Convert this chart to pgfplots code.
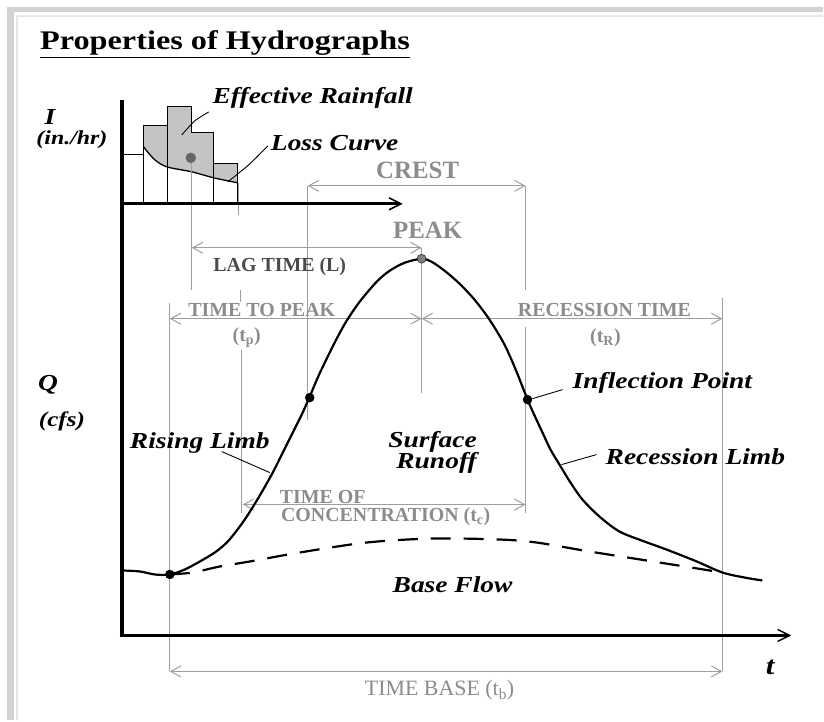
\documentclass[border=0pt]{standalone}
\usepackage{fontspec}
\setmainfont{Liberation Serif}
\newfontfamily\wide[FakeStretch=1.2]{Liberation Serif}
\usepackage{pgfplots}
\pgfplotsset{compat=1.18}
\usetikzlibrary{arrows.meta}

\definecolor{lg}{HTML}{9E9E9E}
\definecolor{tg}{HTML}{8C8C8C}
\definecolor{dk}{HTML}{4A4A4A}
\definecolor{frame}{HTML}{D2D2D2}
\definecolor{rain}{HTML}{C4C4C4}

\tikzset{
  barb/.tip={Straight Barb[length=10bp,width=11bp,line width=1bp]},
  dim/.style={lg, line width=1.2bp, barb-barb},
  guide/.style={lg, line width=1.2bp},
  lead/.style={black, line width=0.9bp},
  it/.style={font=\wide\bfseries\itshape\fontsize{23}{26}\selectfont, inner sep=0pt},
  gl/.style={text=tg, font=\bfseries\fontsize{20}{22}\selectfont, inner sep=0pt},
}

\begin{document}
\begin{tikzpicture}
\begin{axis}[
  width=824bp, height=721bp, scale only axis,
  xmin=0, xmax=824, ymin=0, ymax=721,
  y dir=reverse,
  hide axis, clip=false,
]
% page and grey frame
\path[fill=white] (axis cs:0,0) rectangle (axis cs:824,721);
\path[fill=frame] (axis cs:7,7) rectangle (axis cs:14,721);
\path[fill=frame] (axis cs:7,7) rectangle (axis cs:824,12);
\addplot[gray!20, line width=1.5bp] coordinates {(17,721) (17,16) (824,16)};

% effective rainfall (shaded part above the loss curve)
\addplot[fill=rain, draw=none] coordinates {
  (144,147) (144,126) (168,126) (168,107) (192,107) (192,133)
  (214,133) (214,164) (238,164) (238,183)
  (214,178) (192,172) (167,167) (155,160) (146,150) (144,147)};
% rainfall bars
\addplot[black, line width=1bp] coordinates {(124,204) (124,155) (144,155) (144,204)};
\addplot[black, line width=1bp] coordinates {(144,155) (144,126) (168,126) (168,204)};
\addplot[black, line width=1bp] coordinates {(168,126) (168,107) (192,107) (192,133)};
\addplot[black, line width=1bp] coordinates {(192,133) (214,133) (214,204)};
\addplot[black, line width=1bp] coordinates {(214,164) (238,164) (238,204)};
% loss curve
\addplot[black, line width=1.3bp, smooth] coordinates {
  (144,147) (146,150) (155,160) (167,167) (192,172) (214,178) (238,183)};

% guide lines
\addplot[guide] coordinates {(192,158) (192,290)};
\addplot[guide] coordinates {(239,183) (239,215)};
\addplot[guide] coordinates {(241,290) (241,302)};
\addplot[guide] coordinates {(242,350) (242,513)};
\addplot[guide] coordinates {(308,186) (308,420)};
\addplot[guide] coordinates {(526,186) (526,290)};
\addplot[guide] coordinates {(526,327) (526,513)};
\addplot[guide] coordinates {(422,248) (422,393)};
\addplot[guide] coordinates {(170,303) (170,672)};
\addplot[guide] coordinates {(723,298) (723,672)};

% dimension arrows
\addplot[dim] coordinates {(308,186) (526,186)};
\addplot[dim] coordinates {(192,248) (422,248)};
\addplot[dim] coordinates {(170,319) (422,319)};
\addplot[dim] coordinates {(422,319) (723,319)};
\addplot[dim] coordinates {(243,505) (526,505)};
\addplot[dim] coordinates {(170,672) (723,672)};

% axes
\addplot[black, line width=3.5bp] coordinates {(122,100) (122,638)};
\addplot[black, line width=3bp, -{Straight Barb[length=12bp,width=12bp,line width=1.5bp]}]
  coordinates {(122,204) (403,204)};
\addplot[black, line width=3.5bp, -{Straight Barb[length=12bp,width=12bp,line width=1.5bp]}]
  coordinates {(120,636) (792,636)};

% base flow
\addplot[black, line width=2.2bp, dash pattern=on 20bp off 13bp, smooth] coordinates {
  (170,575) (193,573) (220,567) (250,562) (300,553) (367,543) (433,539)
  (500,540) (537,543) (590,552) (660,563) (723,573)};

% hydrograph
\addplot[black, line width=2.2bp, smooth] coordinates {
  (123,571) (140,572) (155,575) (170,575) (185,570) (200,562) (215,553)
  (227,543) (237,531) (247,517) (260,496) (273,473) (283,453) (293,433)
  (302,415) (310,397) (318,378) (327,359) (337,339) (347,321) (360,302)
  (377,282) (390,271) (405,263) (422,259) (432,262) (445,271) (460,284)
  (475,300) (490,320) (505,345) (517,372) (528,400)
  (536,418) (543,433) (551,450) (560,465) (571,483) (583,500) (600,517)
  (620,532) (645,542) (667,550) (695,561) (723,573) (745,578) (763,581)};

% points
\addplot[only marks, mark=*, mark size=4.5bp, black] coordinates {(310,398) (528,400) (170,575)};
\addplot[only marks, mark=*, mark size=4.5bp, draw=black, fill=gray] coordinates {(422,259)};
\addplot[only marks, mark=*, mark size=5bp, draw=gray!80!black, fill=gray!80!black] coordinates {(191,158)};

% leaders
\addplot[lead, smooth] coordinates {(182,135) (195,121) (209,112)};
\addplot[lead, smooth] coordinates {(228,182) (250,164) (268,146)};
\addplot[lead] coordinates {(533,399) (563,390)};
\addplot[lead] coordinates {(222,452) (270,473)};
\addplot[lead] coordinates {(562,465) (597,455)};

% texts
\node[anchor=base west, inner sep=0pt, font=\wide\bfseries\fontsize{27}{30}\selectfont]
  at (axis cs:40,50) {\underline{Properties of Hydrographs}};
\node[it] at (axis cs:313,98) {Effective Rainfall};
\node[it] at (axis cs:335,143) {Loss Curve};
\node[it] at (axis cs:663,383) {Inflection Point};
\node[it] at (axis cs:200,443) {Rising Limb};
\node[it] at (axis cs:433,442) {Surface};
\node[it] at (axis cs:437,463) {Runoff};
\node[it] at (axis cs:696,457) {Recession Limb};
\node[it] at (axis cs:453,585) {Base Flow};
\node[it] at (axis cs:50,117) {I};
\node[it, font=\wide\bfseries\itshape\fontsize{20}{22}\selectfont] at (axis cs:72,140) {(in./hr)};
\node[it] at (axis cs:48,385) {Q};
\node[it, font=\wide\bfseries\itshape\fontsize{21}{22}\selectfont] at (axis cs:62,422) {(cfs)};
\node[it, font=\wide\bfseries\itshape\fontsize{26}{28}\selectfont] at (axis cs:771,668) {t};

\node[gl, font=\bfseries\fontsize{25}{27}\selectfont] at (axis cs:418,171) {CREST};
\node[gl, font=\bfseries\fontsize{25}{27}\selectfont] at (axis cs:428,230) {PEAK};
\node[gl, text=dk] at (axis cs:280,267) {LAG TIME (L)};
\node[gl] at (axis cs:262,310) {TIME TO PEAK};
\node[gl] at (axis cs:247,338) {(t\textsubscript{p})};
\node[gl] at (axis cs:605,310) {RECESSION TIME};
\node[gl] at (axis cs:606,338) {(t\textsubscript{R})};
\node[gl] at (axis cs:323,497) {TIME OF};
\node[gl] at (axis cs:386,517) {CONCENTRATION (t\textsubscript{c})};
\node[gl, font=\fontsize{22}{24}\selectfont] at (axis cs:440,691) {TIME BASE (t\textsubscript{b})};
\end{axis}
\end{tikzpicture}
\end{document}
